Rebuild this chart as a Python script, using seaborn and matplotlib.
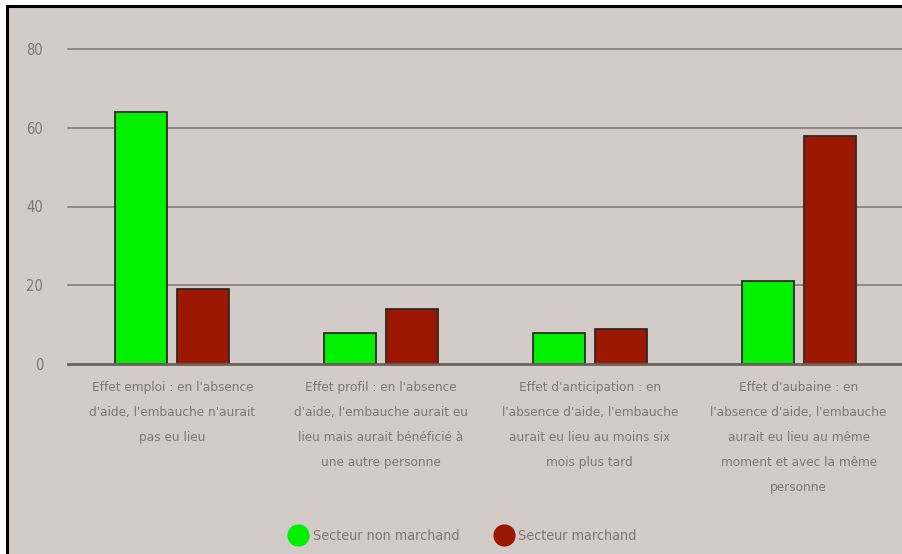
import matplotlib
matplotlib.use("Agg")
import matplotlib.pyplot as plt
import seaborn as sns
import pandas as pd
from matplotlib.patches import Rectangle
from matplotlib.lines import Line2D
from matplotlib.ticker import FixedLocator

categories = [
    "Effet emploi : en l'absence\nd'aide, l'embauche n'aurait\npas eu lieu",
    "Effet profil : en l'absence\nd'aide, l'embauche aurait eu\nlieu mais aurait bénéficié à\nune autre personne",
    "Effet d'anticipation : en\nl'absence d'aide, l'embauche\naurait eu lieu au moins six\nmois plus tard",
    "Effet d'aubaine : en\nl'absence d'aide, l'embauche\naurait eu lieu au même\nmoment et avec la même\npersonne",
]
series_names = ["Secteur non marchand", "Secteur marchand"]
non_marchand = [64, 8, 8, 21]
marchand = [19, 14, 9, 58]
y_ticks = [0, 20, 40, 60, 80]

colors = {"Secteur non marchand": "#00f000", "Secteur marchand": "#9b1700"}
bg = "#d3cbc8"
txt = "#7d7672"

sns.set_theme(style="white")
plt.rcParams["font.family"] = ["DejaVu Sans"]
plt.rcParams["font.stretch"] = "condensed"

df = pd.DataFrame({
    "cat": categories * 2,
    "serie": [series_names[0]] * 4 + [series_names[1]] * 4,
    "val": non_marchand + marchand,
})

W, H = 903, 554
fig = plt.figure(figsize=(W / 100, H / 100), dpi=100, facecolor="white")
fig.patches.append(Rectangle((7 / W, -0.1), 1.2, 1.1 - 6 / H, transform=fig.transFigure,
                             facecolor=bg, edgecolor="black", linewidth=2.2, zorder=-5))

ax = fig.add_axes([68 / W, 1 - 364 / H, (W - 68) / W, (364 - 49) / H])
ax.set_facecolor("none")
ax.set_zorder(2)

sns.barplot(data=df, x="cat", y="val", hue="serie", order=categories, hue_order=series_names,
            palette=colors, width=0.593, gap=0.16, edgecolor="#2e2a28", linewidth=1.3,
            saturation=1, ax=ax, legend=False, zorder=3)

ax.set_ylim(0, 80)
ax.set_xlim(-0.5, 3.5)
ax.set_yticks(y_ticks)
ax.set_yticklabels([str(v) for v in y_ticks], color=txt, fontsize=10.5)
ax.set_xlabel("")
ax.set_ylabel("")
for v in y_ticks[1:]:
    ax.axhline(v, color="#8f8985", linewidth=1.4, zorder=1, clip_on=False)

for s in ["top", "right", "left"]:
    ax.spines[s].set_visible(False)
ax.spines["bottom"].set_color("#6b625c")
ax.spines["bottom"].set_linewidth(2)
ax.spines["bottom"].set_zorder(4)

ax.tick_params(axis="y", length=0, pad=18)
ax.tick_params(axis="x", which="major", length=0, pad=12.5, labelsize=9.7, labelcolor=txt)
ax.xaxis.set_minor_locator(FixedLocator([-0.5, 0.5, 1.5, 2.5, 3.5]))
ax.tick_params(axis="x", which="minor", length=6, width=1.6, color="#6b625c", direction="out")
for lab in ax.get_xticklabels():
    lab.set_linespacing(2.2)
    lab.set_va("top")

handles = [Line2D([], [], marker="o", linestyle="none", markersize=15,
                  markerfacecolor=colors[n], markeredgecolor=colors[n]) for n in series_names]
leg = fig.legend(handles, series_names, loc="center", bbox_to_anchor=(463 / W, 1 - 536 / H),
                 ncol=2, frameon=False, fontsize=10.3, handletextpad=0.4, columnspacing=2.5,
                 handlelength=1.2)
for t in leg.get_texts():
    t.set_color(txt)

fig.savefig("out.png", dpi=100, facecolor="white")
